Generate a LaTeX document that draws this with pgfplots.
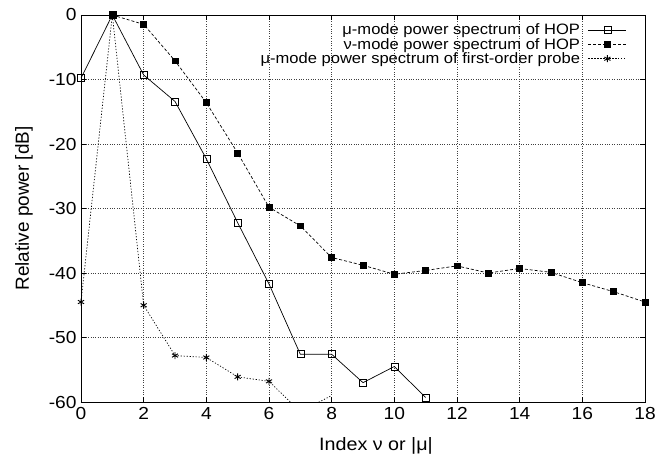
\documentclass[border=0pt]{standalone}
\usepackage{fontspec}
\setmainfont[FakeStretch=1.1]{Liberation Sans}
\newfontfamily\plainsans{Liberation Sans}
\usepackage{pgfplots}
\pgfplotsset{compat=1.18}
\usetikzlibrary{calc}

\begin{document}
\begin{tikzpicture}
\begin{axis}[
    scale only axis,
    width=564bp, height=387bp,
    xmin=0, xmax=18, ymin=-60, ymax=0,
    xtick={0,2,...,18},
    ytick={-60,-50,...,0},
    /pgf/number format/assume math mode=true,
    tick label style={font=\fontsize{17.5}{17.5}\selectfont},
    xticklabel style={yshift=-1.5bp},
    yticklabel style={xshift=-1bp},
    xlabel={Index ν or |μ|},
    ylabel={Relative power [dB]},
    xlabel style={font=\fontsize{18}{18}\selectfont, at={(axis description cs:0.523,0)}, anchor=center, yshift=-44bp},
    ylabel style={font=\plainsans\fontsize{19}{19}\selectfont, at={(axis description cs:-0.101,0.5)}, anchor=center},
    axis line style={line width=0.9pt},
    tick style={black, line width=0.6pt},
    tick align=inside,
    major tick length=5bp,
    grid=major,
    grid style={dotted, black!75, line width=0.6pt},
    legend plot pos=right,
    legend cell align=right,
    legend style={at={(rel axis cs:0.968,0.983)}, anchor=north east, draw=none, fill=none,
        font=\fontsize{15.1}{15.1}\selectfont, row sep=-2bp, column sep=6bp, inner sep=0pt},
    legend image code/.code={
        \draw[mark repeat=2,mark phase=2] plot coordinates {(0bp,0bp) (19bp,0bp) (38bp,0bp)};},
]

\addplot[black, line width=0.7pt, mark=square, mark size=3.5bp, mark options={solid, line width=0.6pt}]
coordinates {
    (0,-9.8) (1,0) (2,-9.3) (3,-13.4) (4,-22.3) (5,-32.2) (6,-41.7)
    (7,-52.6) (8,-52.6) (9,-57.0) (10,-54.5) (11,-59.3)
};
\addlegendentry{μ-mode power spectrum of HOP}

\addplot[black, line width=0.7pt, dash pattern=on 3pt off 2pt, mark=square*, mark size=2.9bp, mark options={solid}]
coordinates {
    (1,0) (2,-1.45) (3,-7.1) (4,-13.6) (5,-21.4) (6,-29.8) (7,-32.7)
    (8,-37.6) (9,-38.8) (10,-40.2) (11,-39.6) (12,-38.9) (13,-40.0)
    (14,-39.3) (15,-39.9) (16,-41.5) (17,-42.9) (18,-44.5)
};
\addlegendentry{ν-mode power spectrum of HOP}

\addplot[black, line width=0.7pt, dash pattern=on 1.2pt off 1.8pt, mark=asterisk, mark size=3.5bp,
    mark options={solid, line width=0.9pt}, mark indices={1,2,3,4,5,6,7,9},
    legend image post style={mark indices={2}}]
coordinates {
    (0,-44.5) (1,0) (2,-45.0) (3,-52.8) (4,-53.1) (5,-56.1) (6,-56.8)
    (7,-61.5) (8,-59.0)
};
\addlegendentry{μ-mode power spectrum of first-order probe}

\coordinate (bl) at (rel axis cs:0,0);
\coordinate (tr) at (rel axis cs:1,1);
\end{axis}
\pgfresetboundingbox
\path[use as bounding box] ($(bl)+(-81bp,-54bp)$) rectangle ($(tr)+(21bp,15bp)$);
\end{tikzpicture}
\end{document}
